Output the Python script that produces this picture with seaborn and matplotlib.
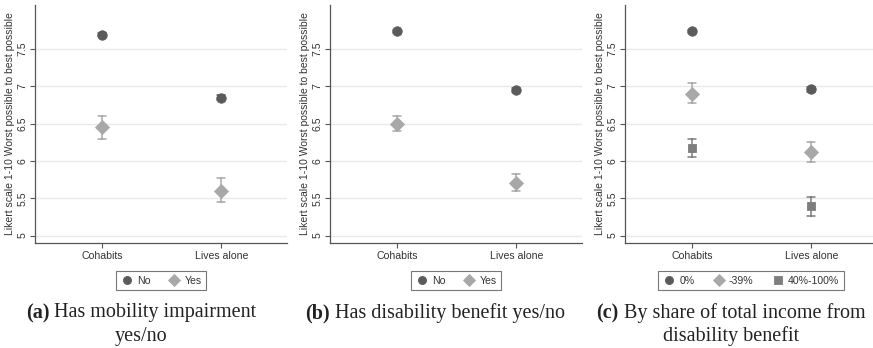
import numpy as np
import pandas as pd
import matplotlib
matplotlib.use("Agg")
import matplotlib.pyplot as plt
import seaborn as sns

# Living arrangement categories on the x axis
categories = ["Cohabits", "Lives alone"]

# (a) Has mobility impairment yes/no
a_groups = ["No", "Yes"]
a_mean = {"No": [7.69, 6.85], "Yes": [6.45, 5.60]}
a_low = {"No": [7.67, 6.82], "Yes": [6.29, 5.45]}
a_high = {"No": [7.71, 6.88], "Yes": [6.60, 5.77]}

# (b) Has disability benefit yes/no
b_groups = ["No", "Yes"]
b_mean = {"No": [7.74, 6.95], "Yes": [6.50, 5.71]}
b_low = {"No": [7.72, 6.92], "Yes": [6.40, 5.60]}
b_high = {"No": [7.76, 6.98], "Yes": [6.60, 5.82]}

# (c) By share of total income from disability benefit
c_groups = ["0%", "-39%", "40%-100%"]
c_mean = {"0%": [7.74, 6.96], "-39%": [6.90, 6.12], "40%-100%": [6.17, 5.39]}
c_low = {"0%": [7.72, 6.93], "-39%": [6.77, 5.98], "40%-100%": [6.05, 5.26]}
c_high = {"0%": [7.76, 6.99], "-39%": [7.04, 6.26], "40%-100%": [6.29, 5.51]}

y_ticks = [5, 5.5, 6, 6.5, 7, 7.5]
y_label = "Likert scale 1-10 Worst possible to best possible"

captions = [
    ("(a)", " Has mobility impairment", "yes/no"),
    ("(b)", " Has disability benefit yes/no", None),
    ("(c)", " By share of total income from", "disability benefit"),
]

colors = ["#5b5b5b", "#a8a8a8", "#7e7e7e"]
markers = ["o", "D", "s"]
marker_size = {"o": 6.8, "D": 6.8, "s": 6.4}
legend_marker_size = {"o": 5.8, "D": 5.8, "s": 5.4}


def long_frame(groups, mean, low, high):
    # each estimate stored as its interval bounds plus the point estimate;
    # the median gives the estimate and the full range gives the interval
    rows = []
    for g in groups:
        for i, cat in enumerate(categories):
            for v in (low[g][i], mean[g][i], high[g][i]):
                rows.append({"living": cat, "group": g, "value": v})
    return pd.DataFrame(rows)


panels = [
    (a_groups, a_mean, a_low, a_high),
    (b_groups, b_mean, b_low, b_high),
    (c_groups, c_mean, c_low, c_high),
]

sns.set_theme(style="white")
plt.rcParams["font.family"] = ["Liberation Sans", "DejaVu Sans"]

W, H = 873, 348
fig = plt.figure(figsize=(W / 100, H / 100), dpi=100)
fig.patch.set_facecolor("white")

ax_left_px = [35, 330, 625]
ax_w_px, ax_top_px, ax_bot_px = 252, 5, 243
axes = []
for lp, (groups, mean, low, high) in zip(ax_left_px, panels):
    ax = fig.add_axes([lp / W, 1 - ax_bot_px / H, ax_w_px / W,
                       (ax_bot_px - ax_top_px) / H])
    df = long_frame(groups, mean, low, high)
    n = len(groups)
    sns.pointplot(
        data=df, x="living", y="value", hue="group", order=categories,
        hue_order=groups, estimator="median", errorbar=("pi", 100),
        palette=colors[:n], markers=markers[:n], linestyles="none",
        dodge=False, capsize=0.07, err_kws={"linewidth": 1.1},
        ax=ax,
    )
    for ln in ax.lines:
        m = ln.get_marker()
        if m in marker_size:
            ln.set_markersize(marker_size[m])
            ln.set_markeredgewidth(0.6)
    ax.set_xlim(-0.56, 1.55)
    ax.set_ylim(4.9, 8.09)
    ax.set_yticks(y_ticks)
    ax.set_yticklabels([f"{t:g}" for t in y_ticks], rotation=90, va="center")
    ax.set_xlabel("")
    ax.set_ylabel(y_label, fontsize=7.5, color="#333333", labelpad=2)
    ax.grid(axis="y", color="#e9e9e9", linewidth=1.0)
    ax.grid(axis="x", visible=False)
    ax.set_axisbelow(True)
    for s in ("top", "right"):
        ax.spines[s].set_visible(False)
    for s in ("left", "bottom"):
        ax.spines[s].set_color("#555555")
        ax.spines[s].set_linewidth(0.9)
    ax.tick_params(axis="both", which="both", length=3.5, width=0.8,
                   color="#555555", labelsize=7.6, labelcolor="#333333",
                   left=True, bottom=True, pad=2)
    handles, labels = ax.get_legend_handles_labels()
    leg = ax.legend(handles, labels, loc="upper center",
                    bbox_to_anchor=(0.5, -0.095), ncol=n, frameon=True,
                    fancybox=False, edgecolor="#555555", fontsize=7.6,
                    handletextpad=0.35, columnspacing=1.7, borderpad=0.45,
                    handlelength=1.2, labelcolor="#333333")
    leg.get_frame().set_linewidth(0.8)
    for h in leg.legend_handles:
        m = h.get_marker()
        if m in legend_marker_size:
            h.set_markersize(legend_marker_size[m])
    axes.append(ax)

# Captions: bold panel letter followed by the regular caption text
cap_centers = [141, 435, 731]
cap_y = [313, 313, 313]
cap_size = 14.5
serif = ["Liberation Serif", "DejaVu Serif"]
fig.canvas.draw()
renderer = fig.canvas.get_renderer()
for cx, cy, (tag, line1, line2) in zip(cap_centers, cap_y, captions):
    t1 = fig.text(0, 0, tag, fontsize=cap_size, fontweight="bold",
                  family=serif, color="#222222")
    t2 = fig.text(0, 0, line1, fontsize=cap_size, family=serif,
                  color="#222222")
    w1 = t1.get_window_extent(renderer).width
    w2 = t2.get_window_extent(renderer).width
    x0 = cx - (w1 + w2) / 2
    yf = 1 - cy / H
    t1.set_position((x0 / W, yf))
    t1.set_va("center")
    t2.set_position(((x0 + w1) / W, yf))
    t2.set_va("center")
    if line2:
        fig.text(cx / W, 1 - (cy + 23) / H, line2, fontsize=cap_size,
                 family=serif, color="#222222", ha="center", va="center")

fig.savefig("out.png", dpi=100, facecolor="white")
